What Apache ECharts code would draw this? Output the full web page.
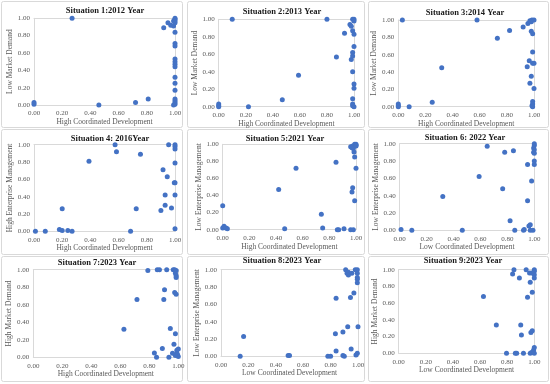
<!DOCTYPE html>
<html><head><meta charset="utf-8">
<script src="https://cdn.jsdelivr.net/npm/echarts@6/dist/echarts.min.js"></script>
<style>html,body{margin:0;padding:0;background:#fff}#c{width:550px;height:384px}</style>
</head><body><div id="c"></div><script>
const titles = ['Situation 1:2012 Year','Situation 2:2013 Year','Situation 3:2014 Year',
  'Situation 4: 2016Year','Situation 5:2021 Year','Situation 6: 2022 Year',
  'Situation 7:2023 Year','Situation 8:2023 Year','Situation 9:2023 Year'];
const xNames = ['High Coordinated Development','High Coordinated Development','High Coordinated Development',
  'High Coordinated Development','High Coordinated Development','Low Coordinated Development',
  'High Coordinated Development','Low Coordinated Development','Low Coordinated Development'];
const yNames = ['Low Market Demand','Low Market Demand','Low Market Demand',
  'High Enterprise Management','Low Enterprise Management','Low Enterprise Management',
  'High Market Demand','Low Enterprise Management','High Market Demand'];
const tickValues = [0, 0.2, 0.4, 0.6, 0.8, 1.0];

const sit1 = [[0,0.03],[0,0.01],[0.27,1.0],[0.46,0.0],[0.72,0.03],[0.81,0.07],[0.92,0.89],[0.95,0.95],[0.97,0.92],[0.99,0.91],[0.99,0.97],[1.0,1.0],[1.0,0.99],[1.0,0.97],[1.0,0.95],[1.0,0.84],[1.0,0.71],[1.0,0.68],[1.0,0.53],[1.0,0.50],[1.0,0.47],[1.0,0.44],[1.0,0.32],[1.0,0.25],[1.0,0.17],[1.0,0.07],[1.0,0.05],[1.0,0.03],[1.0,0.01],[0.99,0.0]];
const sit2 = [[0,0.03],[0,0.01],[0,0.0],[0.10,1.0],[0.22,0.0],[0.47,0.08],[0.59,0.36],[0.80,1.0],[0.87,0.57],[0.93,0.84],[0.97,0.94],[0.98,0.92],[0.98,0.54],[0.99,0.62],[0.99,0.58],[0.99,0.87],[1.0,1.0],[0.99,1.0],[1.0,0.98],[1.0,0.83],[1.0,0.69],[0.99,0.40],[1.0,0.26],[1.0,0.21],[0.99,0.09],[0.99,0.03],[0.99,0.01],[1.0,0.0]];
const sit3 = [[0,0.03],[0,0.01],[0,0.0],[0.03,1.0],[0.08,0.0],[0.25,0.05],[0.32,0.45],[0.58,1.0],[0.73,0.79],[0.82,0.88],[0.92,0.92],[0.955,0.96],[0.965,0.53],[0.95,0.46],[0.98,0.35],[0.97,0.27],[1.0,0.21],[0.99,0.63],[0.99,0.50],[1.0,0.50],[0.98,0.87],[0.99,0.84],[0.97,0.99],[0.985,1.0],[1.0,1.0],[0.98,0.98],[0.99,0.06],[0.99,0.03],[0.985,0.01],[0.99,0.0]];
const sit4 = [[0.01,0],[0.08,0],[0.18,0.02],[0.20,0.01],[0.20,0.26],[0.24,0.01],[0.27,0],[0.39,0.81],[0.575,1.0],[0.585,0.92],[0.685,0],[0.725,0.26],[0.755,0.89],[0.90,0.24],[0.915,0.71],[0.93,0.42],[0.93,0.30],[0.945,0.63],[0.955,1.0],[0.975,0.27],[1.0,1.0],[1.0,0.98],[1.0,0.95],[1.0,0.79],[0.995,0.56],[1.0,0.56],[1.0,0.42],[1.0,0.03]];
const sit5 = [[0,0.28],[0,0.02],[0.01,0.04],[0.025,0.02],[0.035,0.01],[0.42,0.47],[0.465,0.01],[0.55,0.72],[0.74,0.18],[0.75,0.02],[0.85,0.79],[0.86,0],[0.87,0],[0.91,0.01],[0.96,0],[0.98,0],[0.97,0.44],[0.975,0.49],[0.99,0.34],[1.0,0.72],[0.99,0.85],[0.985,0.91],[0.96,0.97],[0.975,0.98],[0.99,1.0],[1.0,1.0],[1.0,0.99],[0.98,0.95],[0.97,0.96],[1.0,0.98]];
const sit6 = [[0.01,0.01],[0.09,0],[0.32,0.39],[0.465,0],[0.59,0.62],[0.65,0.97],[0.765,0.48],[0.78,0.90],[0.82,0.11],[0.845,0.92],[0.855,0],[0.92,0],[0.925,0.01],[0.95,0.34],[0.95,0.76],[0.96,0.05],[0.97,0.065],[0.98,0.57],[0.97,0],[0.99,0],[1.0,1.0],[1.0,0.98],[0.995,0.95],[1.0,0.93],[0.995,0.90],[1.0,0.89],[1.0,0.80],[1.0,0.76]];
const sit7 = [[0.625,0.32],[0.715,0.66],[0.79,0.99],[0.835,0.05],[0.85,0],[0.855,1.0],[0.87,1.0],[0.89,0.10],[0.90,0.66],[0.905,0.77],[0.92,1.0],[0.935,0],[0.945,0.33],[0.965,1.0],[0.975,1.0],[0.985,0.99],[0.97,0.15],[0.96,0.045],[0.975,0.74],[0.985,0.72],[0.98,0.27],[0.98,0.96],[0.985,0.93],[0.985,0.91],[0.99,0.08],[0.99,0.05],[0.995,0.03],[1.0,0.01],[0.98,0.02],[1.0,0.095]];
const sit8 = [[0.14,0],[0.165,0.23],[0.49,0.01],[0.50,0.01],[0.78,0],[0.80,0],[0.835,0.26],[0.84,0.06],[0.84,0.67],[0.89,0.28],[0.89,0.01],[0.90,0],[0.91,1.0],[0.92,0.96],[0.93,0.97],[0.93,0.94],[0.925,0.34],[0.945,0.68],[0.95,0.085],[0.955,0.96],[0.97,0.73],[0.98,1.0],[0.995,1.0],[0.985,0.015],[0.995,0.035],[0.995,0.96],[0.995,0.91],[0.995,0.89],[0.995,0.85],[1.0,0.34]];
const sit9 = [[0.625,0.68],[0.72,0.34],[0.795,0.0],[0.84,0.95],[0.85,1.0],[0.86,0],[0.87,0],[0.89,0.90],[0.90,0.34],[0.905,0.22],[0.92,0],[0.94,1.0],[0.95,0.67],[0.965,0.96],[0.97,0.85],[0.975,0.25],[0.985,0.27],[0.985,0.73],[1.0,1.0],[1.0,0.98],[1.0,0.94],[1.0,0.90],[0.98,0.96],[0.97,0],[0.98,0.01],[0.99,0.02],[0.995,0.04],[1.0,0.07],[1.0,0]];
const situations = [sit1,sit2,sit3,sit4,sit5,sit6,sit7,sit8,sit9];

// layout (pixels)
const grids = [
  [34,18.3,141,86.7],[218.7,19.3,135.3,87.4],[398.3,20,135.7,86.7],
  [34,144.7,141,86.6],[222.7,144.3,133.3,85.4],[399.7,143.7,134.6,86.6],
  [33.3,269.7,145,87.6],[221,269.7,137,86.6],[398.7,269.7,135.6,83.6]];
const panels = [
  [1.5,1.5,181,126],[187.5,1.5,177,126],[368.5,1.5,180,126],
  [1.5,129.5,181,125],[187.5,129.5,177,125],[368.5,129.5,180,125],
  [1.5,256.5,181,125],[187.5,256.5,177,125],[368.5,256.5,180,125]];
const titleCenters = [[105,12],[282,13],[465,14],[110,140],[285,140],[465,139],[97,264],[282,262],[463,262]];

const serif = '"Liberation Serif", "DejaVu Serif", serif';
const gridOpt = [], xAxes = [], yAxes = [], series = [], graphics = [], titleOpt = [];
situations.forEach((data, i) => {
  const [l,t,w,h] = grids[i];
  gridOpt.push({left:l, top:t, width:w, height:h, show:false});
  const axisCommon = {
    type:'value', min:0, max:1, interval:0.2, gridIndex:i,
    axisLine:{show:true, onZero:false, lineStyle:{color:'#d9d9d9', width:1}},
    axisTick:{show:false},
    splitLine:{show:false},
    axisLabel:{color:'#595959', fontFamily:serif, fontSize:7, formatter:v=>v.toFixed(2)},
    nameLocation:'middle',
    nameTextStyle:{color:'#595959', fontFamily:serif, fontSize:7.5}
  };
  xAxes.push(Object.assign({}, axisCommon, {name:xNames[i], nameGap:13,
    axisLabel:Object.assign({}, axisCommon.axisLabel, {margin:5})}));
  xAxes.push(Object.assign({}, axisCommon, {position:'top', axisLabel:{show:false}, name:''}));
  yAxes.push(Object.assign({}, axisCommon, {name:yNames[i], nameGap:18,
    axisLabel:Object.assign({}, axisCommon.axisLabel, {margin:4})}));
  yAxes.push(Object.assign({}, axisCommon, {position:'right', axisLabel:{show:false}, name:''}));
  series.push({type:'scatter', xAxisIndex:2*i, yAxisIndex:2*i, data:data, symbolSize:5,
    itemStyle:{color:'#4472C4', opacity:1}, clip:false});
  titleOpt.push({text:titles[i], left:titleCenters[i][0], top:titleCenters[i][1] - 6, textAlign:'center', padding:0,
    textStyle:{fontFamily:serif, fontSize:8.5, fontWeight:'bold', color:'#1a1a1a'}});
  const p = panels[i];
  graphics.push({type:'rect', shape:{x:p[0], y:p[1], width:p[2], height:p[3], r:2},
    style:{fill:'none', stroke:'#d9d9d9', lineWidth:1}, silent:true, z:-1});
});
const chart = echarts.init(document.getElementById('c'), null, {renderer:'canvas'});
chart.setOption({
  animation:false,
  backgroundColor:'#fff',
  title: titleOpt,
  grid:gridOpt, xAxis:xAxes, yAxis:yAxes, series:series, graphic:graphics
});
</script></body></html>
